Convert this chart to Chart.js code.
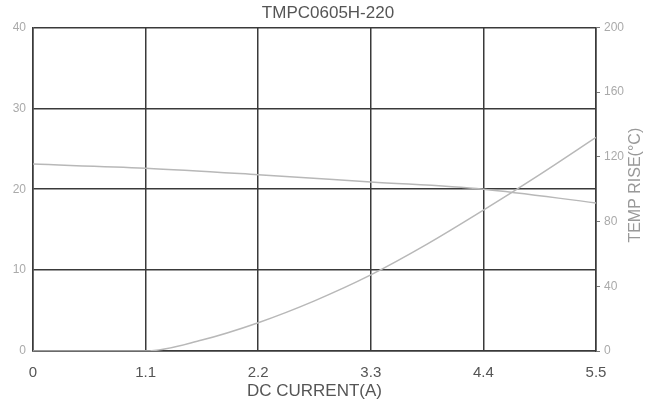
<!DOCTYPE html>
<html>
<head>
<meta charset="utf-8">
<script src="https://cdn.jsdelivr.net/npm/chart.js@4.4.1/dist/chart.umd.min.js"></script>
<style>
  html, body { margin: 0; padding: 0; background: #fff; }
  #wrap { width: 656px; height: 402px; }
</style>
</head>
<body>
<div id="wrap"><canvas id="c" width="656" height="402"></canvas></div>
<script>
// data
const xTicks = [0, 1.1, 2.2, 3.3, 4.4, 5.5];
const leftTicks = [0, 10, 20, 30, 40];
const rightTicks = [0, 40, 80, 120, 160, 200];

const inductX = [0, 1.1, 2.2, 3.3, 4.4, 5.5];
const inductL = [23.1, 22.6, 21.8, 20.9, 20.0, 18.3];

const tempX = [0, 0.55, 1.1, 1.65, 2.2, 2.75, 3.3, 3.85, 4.4, 4.95, 5.5];
const tempRise = [0, 0, 0, 6.8, 17.5, 31, 47, 66, 87, 109, 132];

const GRID = "#3a3a3a";
const CURVE = "#b8b8b8";
const FONT = "'Liberation Sans', Arial, sans-serif";
const RIGHT_TITLE = "TEMP RISE(\u00b0C)";

function pts(xs, ys) {
  return xs.map((x, i) => ({ x: x, y: ys[i] }));
}

function fixTicks(list) {
  return function (scale) {
    scale.ticks = list.map(v => ({ value: v }));
  };
}

// right axis title reads bottom-to-top in the original
const rightTitle = {
  id: "rightTitle",
  afterDraw(chart) {
    const s = chart.scales.yR;
    const a = chart.chartArea;
    const c = chart.ctx;
    c.save();
    c.translate(s.right - 20, (a.top + a.bottom) / 2 - 4);
    c.rotate(-Math.PI / 2);
    c.font = "16px " + FONT;
    c.fillStyle = "#999";
    c.textAlign = "center";
    c.textBaseline = "middle";
    c.fillText(RIGHT_TITLE, 0, 0);
    c.restore();
  }
};

const ctx = document.getElementById("c").getContext("2d");
new Chart(ctx, {
  type: "line",
  data: {
    datasets: [
      {
        label: "L",
        data: pts(inductX, inductL),
        yAxisID: "yL",
        borderColor: CURVE,
        borderWidth: 1.5,
        pointRadius: 0,
        cubicInterpolationMode: "monotone",
        fill: false
      },
      {
        label: "Temp",
        data: pts(tempX, tempRise),
        yAxisID: "yR",
        borderColor: CURVE,
        borderWidth: 1.5,
        pointRadius: 0,
        cubicInterpolationMode: "monotone",
        fill: false
      }
    ]
  },
  options: {
    responsive: false,
    animation: false,
    layout: { padding: { top: 0, left: 0, right: 0, bottom: 0 } },
    plugins: {
      legend: { display: false },
      tooltip: { enabled: false },
      title: {
        display: true,
        text: "TMPC0605H-220",
        color: "#555",
        font: { family: FONT, size: 17, weight: "normal" },
        padding: { top: 3, bottom: 4 }
      }
    },
    scales: {
      x: {
        type: "linear",
        min: 0,
        max: 5.5,
        afterBuildTicks: fixTicks(xTicks),
        afterFit: s => { s.height = 51; },
        grid: { color: GRID, lineWidth: 1.5, drawTicks: false },
        border: { color: GRID, width: 1.5 },
        ticks: {
          color: "#555",
          font: { family: FONT, size: 15 },
          padding: 13,
          callback: v => String(v)
        },
        title: {
          display: true,
          text: "DC CURRENT(A)",
          color: "#555",
          font: { family: FONT, size: 17 },
          padding: { top: -4, bottom: 0 }
        }
      },
      yL: {
        type: "linear",
        position: "left",
        min: 0,
        max: 40,
        afterBuildTicks: fixTicks(leftTicks),
        afterFit: s => { s.width = 33; },
        grid: { color: GRID, lineWidth: 1.5, drawTicks: false },
        border: { color: GRID, width: 1.5 },
        ticks: {
          color: "#aaa",
          font: { family: FONT, size: 12 },
          padding: 7
        }
      },
      yR: {
        type: "linear",
        position: "right",
        min: 0,
        max: 200,
        afterBuildTicks: fixTicks(rightTicks),
        afterFit: s => { s.width = 60; },
        grid: { drawOnChartArea: false, color: "#777", tickLength: 4 },
        border: { color: GRID, width: 1.5 },
        ticks: {
          color: "#aaa",
          font: { family: FONT, size: 12 },
          padding: 4
        }
      }
    }
  },
  plugins: [rightTitle]
});
</script>
</body>
</html>
